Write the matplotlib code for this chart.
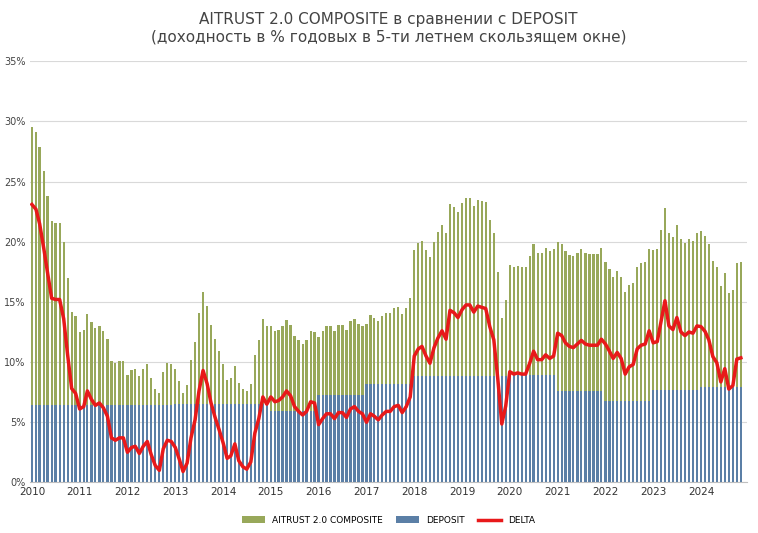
import numpy as np
import matplotlib.pyplot as plt
import matplotlib.dates as mdates
import pandas as pd

# AITRUST 2.0 COMPOSITE, % годовых (помесячно, 2010-01 .. 2024-11)
composite = [
    29.5, 29.1, 27.9, 25.9, 23.8, 21.7, 21.6, 21.6, 20.0, 17.0, 14.2, 13.8,  # 2010
    12.5, 12.7, 14.0, 13.3, 12.8, 13.0, 12.6, 11.9, 10.1, 9.9, 10.1, 10.1,   # 2011
    8.9, 9.3, 9.4, 8.8, 9.4, 9.8, 8.7, 7.8, 7.4, 9.2, 9.9, 9.8,              # 2012
    9.4, 8.4, 7.4, 8.1, 10.2, 11.7, 14.1, 15.8, 14.7, 13.1, 11.9, 10.9,      # 2013
    9.8, 8.5, 8.7, 9.7, 8.3, 7.8, 7.6, 8.2, 10.6, 11.8, 13.6, 13.0,          # 2014
    13.0, 12.6, 12.7, 13.0, 13.5, 13.1, 12.2, 11.8, 11.5, 11.8, 12.6, 12.5,  # 2015
    12.1, 12.6, 13.0, 13.0, 12.6, 13.1, 13.1, 12.7, 13.4, 13.6, 13.2, 13.0,  # 2016
    13.2, 13.9, 13.7, 13.4, 13.8, 14.1, 14.1, 14.5, 14.6, 14.0, 14.5, 15.3,  # 2017
    19.3, 19.9, 20.1, 19.3, 18.7, 20.0, 20.8, 21.4, 20.7, 23.1, 22.9, 22.5,  # 2018
    23.2, 23.6, 23.6, 23.0, 23.5, 23.4, 23.3, 21.8, 20.7, 17.5, 13.7, 15.2,  # 2019
    18.1, 17.9, 18.0, 17.9, 17.9, 18.8, 19.8, 19.1, 19.1, 19.5, 19.2, 19.4,  # 2020
    20.0, 19.8, 19.2, 18.9, 18.8, 19.1, 19.4, 19.1, 19.0, 19.0, 19.0, 19.5,  # 2021
    18.3, 17.7, 17.1, 17.6, 17.1, 15.8, 16.4, 16.6, 17.9, 18.2, 18.3, 19.4,  # 2022
    19.3, 19.4, 21.0, 22.8, 20.7, 20.4, 21.4, 20.2, 19.9, 20.2, 20.1, 20.7,  # 2023
    20.9, 20.5, 19.8, 18.4, 17.9, 16.3, 17.4, 15.7, 16.0, 18.2, 18.3,        # 2024
]

# DEPOSIT, % годовых - уровень по годам
deposit_by_year = {
    2010: 6.4, 2011: 6.4, 2012: 6.4, 2013: 6.5, 2014: 6.5, 2015: 5.9,
    2016: 7.3, 2017: 8.2, 2018: 8.8, 2019: 8.85, 2020: 8.9, 2021: 7.6,
    2022: 6.8, 2023: 7.7, 2024: 7.95,
}

dates = pd.date_range('2010-01-01', periods=len(composite), freq='MS')
deposit = np.array([deposit_by_year[d.year] for d in dates])
composite = np.array(composite)
delta = composite - deposit

fig, ax = plt.subplots(figsize=(7.58, 5.33), dpi=100)
fig.subplots_adjust(left=0.04, right=0.985, top=0.885, bottom=0.095)

x = mdates.date2num(dates)
w = 17
ax.bar(x, composite, width=w, color='#98a85a', linewidth=0, label='AITRUST 2.0 COMPOSITE', zorder=2)
ax.bar(x, deposit, width=w, color='#5b7fa6', linewidth=0, label='DEPOSIT', zorder=3)
ax.plot(x, delta, color='#e8191a', lw=2.5, label='DELTA', zorder=4)

ax.set_ylim(0, 35)
ax.set_yticks(range(0, 36, 5))
ax.set_yticklabels([f'{v}%' for v in range(0, 36, 5)], fontsize=7, color='#444444')
ax.set_xlim(mdates.date2num(pd.Timestamp('2009-12-20')), mdates.date2num(pd.Timestamp('2024-12-15')))
ax.xaxis.set_major_locator(mdates.YearLocator())
ax.xaxis.set_major_formatter(mdates.DateFormatter('%Y'))
ax.tick_params(axis='x', labelsize=7.5, length=0, colors='#333333')
ax.tick_params(axis='y', length=0)
ax.grid(axis='y', color='#d9d9d9', lw=0.8, zorder=0)
for s in ['top', 'right', 'left']:
    ax.spines[s].set_visible(False)
ax.spines['bottom'].set_color('#bfbfbf')

ax.set_title('AITRUST 2.0 COMPOSITE в сравнении с DEPOSIT\n(доходность в % годовых в 5-ти летнем скользящем окне)',
             fontsize=11, color='#444444', pad=14)
handles, labels = ax.get_legend_handles_labels()
order = [1, 2, 0]
ax.legend([handles[i] for i in order], [labels[i] for i in order],
          loc='upper center', bbox_to_anchor=(0.5, -0.06), ncol=3, frameon=False,
          fontsize=6.5, handlelength=2.5, columnspacing=1.5)

plt.savefig('out.png')
